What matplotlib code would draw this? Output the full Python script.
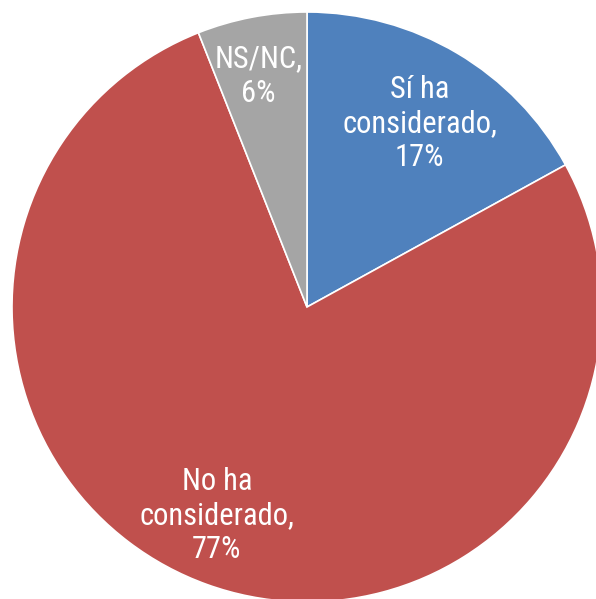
import numpy as np
import matplotlib.pyplot as plt
from matplotlib import font_manager

# Datos
etiquetas = ['Sí ha\nconsiderado,\n17%', 'No ha\nconsiderado,\n77%', 'NS/NC,\n6%']
valores = [17, 77, 6]
colores = ['#4F81BD', '#C0504D', '#A5A5A5']

nombres = {f.name for f in font_manager.fontManager.ttflist}
if 'Roboto Condensed' in nombres:
    fuente, tam = 'Roboto Condensed', 22
else:
    fuente, tam = 'Roboto', 17

W, H = 596, 599
fig = plt.figure(figsize=(W / 100, H / 100), dpi=100)
cx, cy, r = 307, 307, 295
ax = fig.add_axes([(cx - r) / W, (H - cy - r) / H, 2 * r / W, 2 * r / H])

wedges, textos = ax.pie(valores, labels=etiquetas, colors=colores, startangle=90,
                        counterclock=False, labeldistance=0.76,
                        wedgeprops=dict(edgecolor='white', linewidth=1.2),
                        textprops=dict(color='white', fontsize=tam, family=fuente,
                                       ha='center', va='center', linespacing=1.22))
# ajuste fino de distancias de etiquetas
dist = [0.73, 0.77, 0.80]
ang = [58.5, -113.4, 101.8]
for t, d, a in zip(textos, dist, ang):
    t.set_position((d * np.cos(np.radians(a)), d * np.sin(np.radians(a))))
    t.set_horizontalalignment('center')

ax.set_xlim(-1, 1)
ax.set_ylim(-1, 1)
ax.axis('off')
fig.savefig('out.png', dpi=100)
